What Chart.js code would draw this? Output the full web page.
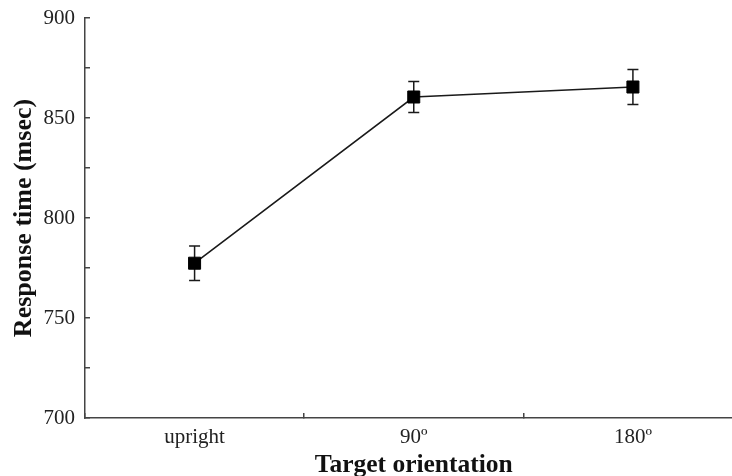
<!DOCTYPE html>
<html>
<head>
<meta charset="utf-8">
<script src="https://cdn.jsdelivr.net/npm/chart.js@4/dist/chart.umd.min.js"></script>
<style>
  html, body { margin: 0; padding: 0; background: #ffffff; overflow: hidden; }
  /* the plot area runs slightly past the right edge of the figure */
  #wrap { width: 732px; height: 476px; overflow: hidden; }
  #rt { display: block; }
</style>
</head>
<body>
<div id="wrap"><canvas id="rt" width="752" height="476"></canvas></div>
<script>
// Mean response time per target orientation, with error bars
const orientations = ['upright', '90º', '180º'];
const meanRT = [777.4, 860.5, 865.5];
const errorRT = [8.6, 7.7, 8.7];
const yTickMin = 700;
const yTickMax = 900;
const yTickStep = 25;
const yLabelStep = 50;

const ink = '#1a1a1a';
const axisInk = '#444444';
const serif = "'Liberation Serif', 'Times New Roman', serif";

// Vertical error bars with caps, drawn beneath the markers
const errorBars = {
  id: 'errorBars',
  beforeDatasetsDraw(chart) {
    const ctx = chart.ctx;
    const meta = chart.getDatasetMeta(0);
    const y = chart.scales.y;
    ctx.save();
    ctx.strokeStyle = ink;
    ctx.lineWidth = 1.5;
    meta.data.forEach((pt, i) => {
      const x = pt.x;
      const top = y.getPixelForValue(meanRT[i] + errorRT[i]);
      const bot = y.getPixelForValue(meanRT[i] - errorRT[i]);
      const cap = 5.5;
      ctx.beginPath();
      ctx.moveTo(x, top); ctx.lineTo(x, bot);
      ctx.moveTo(x - cap, top); ctx.lineTo(x + cap, top);
      ctx.moveTo(x - cap, bot); ctx.lineTo(x + cap, bot);
      ctx.stroke();
    });
    ctx.restore();
  }
};

new Chart(document.getElementById('rt'), {
  type: 'line',
  data: {
    labels: orientations,
    datasets: [{
      data: meanRT,
      borderColor: ink,
      borderWidth: 1.6,
      pointStyle: 'rect',
      pointRadius: 8.5,
      pointBorderWidth: 1,
      pointBackgroundColor: '#000000',
      pointBorderColor: '#000000',
      tension: 0,
      fill: false
    }]
  },
  options: {
    responsive: false,
    animation: false,
    events: [],
    layout: { padding: { top: 18, right: 0, bottom: 0, left: 0 } },
    plugins: { legend: { display: false }, tooltip: { enabled: false } },
    scales: {
      x: {
        type: 'category',
        offset: true,
        grid: {
          offset: true,
          drawOnChartArea: false,
          drawTicks: true,
          tickLength: -5,
          color: axisInk,
          lineWidth: 1.5
        },
        border: { display: true, color: axisInk, width: 1.5 },
        ticks: {
          color: '#222222',
          padding: 12,
          font: { family: serif, size: 21 }
        },
        title: {
          display: true,
          text: 'Target orientation',
          color: '#111111',
          padding: { top: 0, bottom: -2 },
          font: { family: serif, size: 25.5, weight: 'bold', lineHeight: 1 }
        },
        afterFit(scale) {
          scale.height = 58;
          scale.paddingLeft = 0;
          scale.paddingRight = 0;
        }
      },
      y: {
        min: yTickMin,
        max: yTickMax,
        grid: {
          drawOnChartArea: false,
          drawTicks: true,
          tickLength: -5,
          color: axisInk,
          lineWidth: 1.5
        },
        border: { display: true, color: axisInk, width: 1.5 },
        ticks: {
          stepSize: yTickStep,
          autoSkip: false,
          color: '#222222',
          padding: 15,
          font: { family: serif, size: 21 },
          callback: (v) => (v % yLabelStep === 0 ? String(v) : '')
        },
        title: {
          display: true,
          text: 'Response time (msec)',
          color: '#111111',
          padding: { top: 9, bottom: 0 },
          font: { family: serif, size: 26, weight: 'bold', lineHeight: 1.2 }
        },
        afterFit(scale) {
          scale.width = 85;
          scale.paddingTop = 0;
          scale.paddingBottom = 0;
        }
      }
    }
  },
  plugins: [errorBars]
});
</script>
</body>
</html>
